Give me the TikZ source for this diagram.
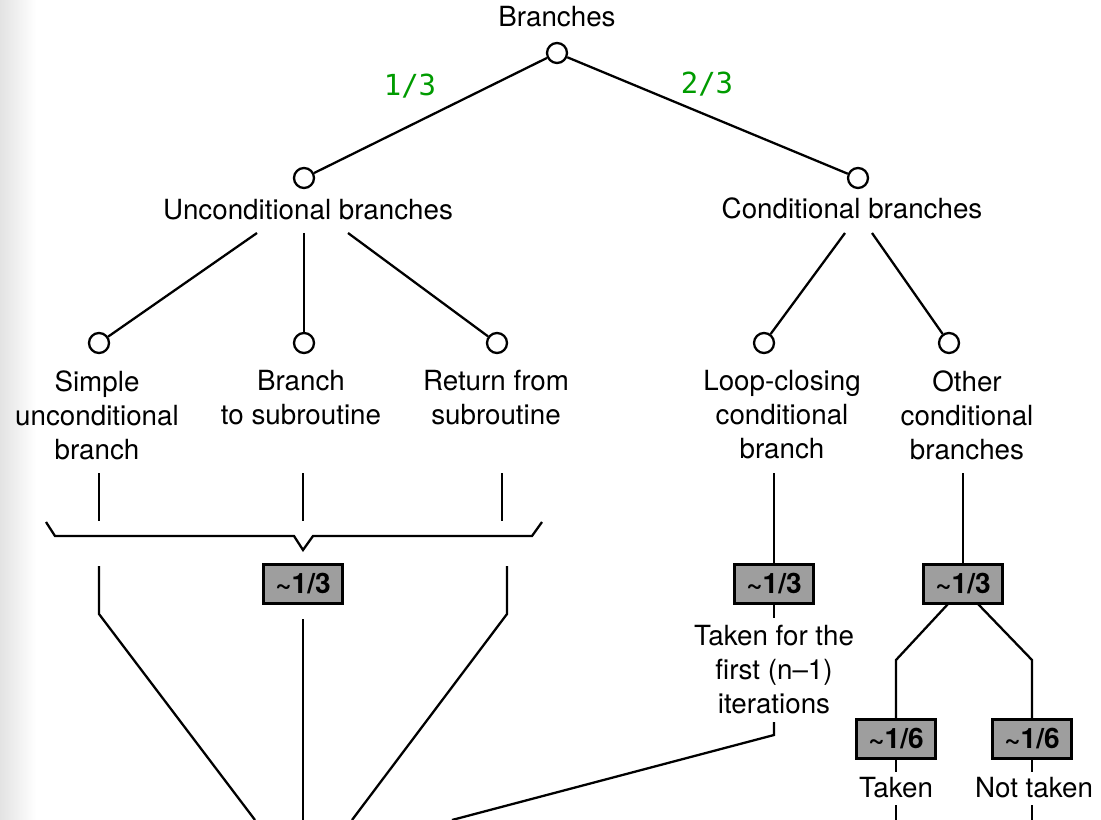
\documentclass[tikz,border=0pt]{standalone}
\usepackage{fontspec}
\setmainfont{TeX Gyre Heros}
\newfontfamily\fracfont{DejaVu Sans Mono}
\definecolor{fracgreen}{RGB}{0,155,0}
\definecolor{boxgray}{gray}{0.62}
\begin{document}
\begin{tikzpicture}[x=0.02cm,y=-0.02cm,
  txt/.style={inner sep=0pt, font=\fontsize{15.8}{19.4}\selectfont, align=center},
  dot/.style={circle, draw, line width=1.3pt, inner sep=0pt, minimum size=0.4cm, fill=white},
  share/.style={draw, line width=1.6pt, fill=boxgray, inner sep=0pt,
    minimum width=1.58cm, minimum height=0.79cm, font=\fontsize{16}{18}\selectfont\bfseries},
  frac/.style={inner sep=0pt, font=\fontsize{16.5}{18}\fracfont, text=fracgreen},
  wire/.style={line width=1.3pt, line join=miter}]
\useasboundingbox (0,0) rectangle (1101,820);

% faint page edge on the left
\fill[left color=black!11, right color=white, draw=none] (0,0) rectangle (36,820);

% ---- top level
\node[txt, anchor=base] (top) at (557,27) {Branches};
\node[dot] (root) at (557,53) {};
\node[dot] (unc) at (304,178) {};
\node[dot] (cond) at (858,178) {};
\draw[wire] (root) -- (unc);
\draw[wire] (root) -- (cond);
\node[frac] (f1) at (410,86) {1/3};
\node[frac] (f2) at (707,84) {2/3};

\node[txt, anchor=base] (unct) at (308,220) {Unconditional branches};
\node[txt, anchor=base] (condt) at (852,219) {Conditional branches};

% ---- second level
\node[dot] (simple) at (99,343) {};
\node[dot] (call) at (304,343) {};
\node[dot] (ret) at (497,343) {};
\node[dot] (loop) at (764,343) {};
\node[dot] (other) at (949,343) {};

\coordinate (ua) at (257,233);
\coordinate (ub) at (304,233);
\coordinate (uc) at (348,233);
\coordinate (ca) at (845,233);
\coordinate (cb) at (872,233);
\draw[wire] (ua) -- (simple);
\draw[wire] (ub) -- (call);
\draw[wire] (uc) -- (ret);
\draw[wire] (ca) -- (loop);
\draw[wire] (cb) -- (other);

\node[txt, anchor=north] (simplet) at (97,370) {Simple\\unconditional\\branch};
\node[txt, anchor=north] (callt) at (301,370) {Branch\\to subroutine};
\node[txt, anchor=north] (rett) at (496,370) {Return from\\subroutine};
\node[txt, anchor=north] (loopt) at (782,370) {Loop-closing\\conditional\\branch};
\node[txt, anchor=north] (othert) at (967,370) {Other\\conditional\\branches};

% ---- unconditional group: brace and share
\coordinate (t1a) at (99,473);  \coordinate (t1b) at (99,521);
\coordinate (t2a) at (303,473); \coordinate (t2b) at (303,521);
\coordinate (t3a) at (502,473); \coordinate (t3b) at (502,521);
\draw[wire] (t1a) -- (t1b);
\draw[wire] (t2a) -- (t2b);
\draw[wire] (t3a) -- (t3b);

\coordinate (bl) at (46,522);
\coordinate (blc) at (55,536);
\coordinate (bdl) at (294,536);
\coordinate (bd) at (303,550);
\coordinate (bdr) at (313,536);
\coordinate (brc) at (532,536);
\coordinate (br) at (542,522);
\draw[wire] (bl) -- (blc) -- (bdl) -- (bd) -- (bdr) -- (brc) -- (br);

\node[share] (ushare) at (303,584) {\textasciitilde 1/3};

\coordinate (l1) at (99,566);  \coordinate (l1k) at (99,614);  \coordinate (l1e) at (255,820);
\coordinate (m1) at (303,619); \coordinate (m1e) at (303,820);
\coordinate (r1) at (507,566); \coordinate (r1k) at (507,614); \coordinate (r1e) at (352,820);
\draw[wire] (l1) -- (l1k) -- (l1e);
\draw[wire] (m1) -- (m1e);
\draw[wire] (r1) -- (r1k) -- (r1e);

% ---- loop-closing branch
\coordinate (lp1) at (774,473);
\node[share] (lshare) at (774,584) {\textasciitilde 1/3};
\draw[wire] (lp1) -- (lshare.north);
\coordinate (lp2) at (774,618);
\draw[wire] (lshare.south) -- (lp2);
\node[txt, anchor=north] (takenfirst) at (774,625) {Taken for the\\first (n--1)\\iterations};
\coordinate (lp3) at (774,722);
\coordinate (lp4) at (774,735);
\coordinate (lp5) at (452,820);
\draw[wire] (lp3) -- (lp4) -- (lp5);

% ---- other conditional branches
\coordinate (op1) at (963,473);
\node[share] (oshare) at (963,584) {\textasciitilde 1/3};
\draw[wire] (op1) -- (oshare.north);

\node[share] (tshare) at (896,739) {\textasciitilde 1/6};
\node[share] (nshare) at (1032,739) {\textasciitilde 1/6};
\coordinate (oa) at (948,604);  \coordinate (oak) at (896,660);
\coordinate (ob) at (978,604);  \coordinate (obk) at (1032,660);
\draw[wire] (oa) -- (oak) -- (tshare.north);
\draw[wire] (ob) -- (obk) -- (nshare.north);

\coordinate (ta) at (896,772);  \coordinate (tb) at (896,805);  \coordinate (tc) at (896,820);
\coordinate (na) at (1032,772); \coordinate (nb) at (1032,805); \coordinate (nc) at (1032,820);
\draw[wire] (tshare.south) -- (ta);
\draw[wire] (nshare.south) -- (na);
\node[txt, anchor=base] (takent) at (896,797) {Taken};
\node[txt, anchor=base] (nott) at (1034,797) {Not taken};
\draw[wire] (tb) -- (tc);
\draw[wire] (nb) -- (nc);
\end{tikzpicture}
\end{document}
